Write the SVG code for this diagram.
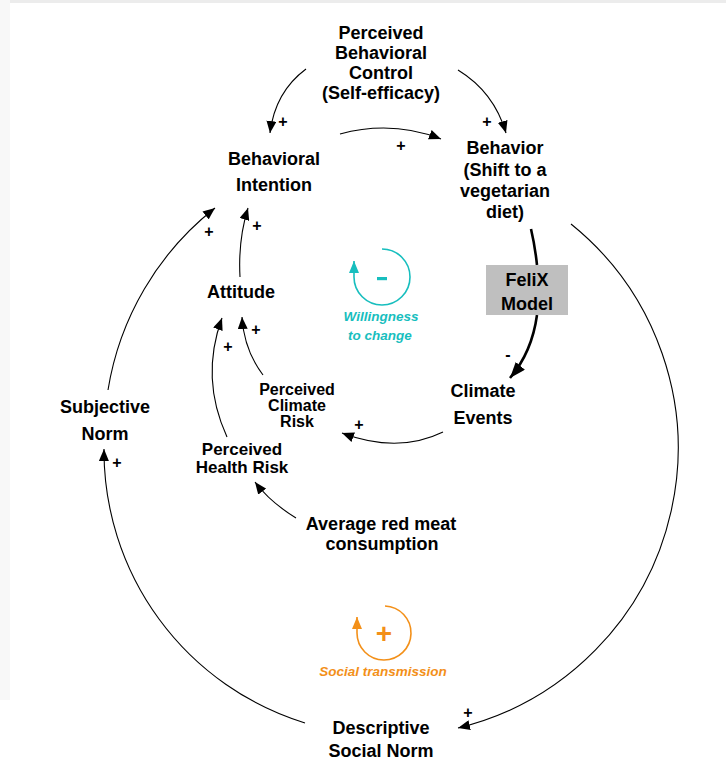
<svg xmlns="http://www.w3.org/2000/svg" width="726" height="762" viewBox="0 0 726 762">
  <defs>
    <marker id="arrow" viewBox="0 0 12 10" refX="12" refY="5" markerWidth="12" markerHeight="10" markerUnits="userSpaceOnUse" orient="auto">
      <path d="M0,0 L12,5 L0,10 Z" fill="#000"/>
    </marker>
    <marker id="arrowBig" viewBox="0 0 16 12" refX="16" refY="6" markerWidth="16" markerHeight="12" markerUnits="userSpaceOnUse" orient="auto">
      <path d="M0,0 L16,6 L0,12 Z" fill="#000"/>
    </marker>
    <marker id="arrowCyan" viewBox="0 0 12 10" refX="12" refY="5" markerWidth="12" markerHeight="10" markerUnits="userSpaceOnUse" orient="auto">
      <path d="M0,0 L12,5 L0,10 Z" fill="#17BEBE"/>
    </marker>
    <marker id="arrowOrange" viewBox="0 0 12 10" refX="12" refY="5" markerWidth="12" markerHeight="10" markerUnits="userSpaceOnUse" orient="auto">
      <path d="M0,0 L12,5 L0,10 Z" fill="#F39019"/>
    </marker>
  </defs>
  <style>
    .lbl { font-family: "Liberation Sans", Arial, sans-serif; font-weight: bold; font-size: 18px; fill: #000; text-anchor: middle; }
    .tight { font-size: 16px; }
    .mid { font-size: 17px; }
    .sign { font-family: "Liberation Sans", Arial, sans-serif; font-weight: bold; font-size: 16px; fill: #000; text-anchor: middle; }
    .link { fill: none; stroke: #000; stroke-width: 1.1; marker-end: url(#arrow); }
    .thick { fill: none; stroke: #000; stroke-width: 2.6; }
    .loopname { font-family: "Liberation Sans", Arial, sans-serif; font-weight: bold; font-style: italic; font-size: 13.5px; text-anchor: middle; }
  </style>

  <!-- page background -->
  <rect x="0" y="0" width="726" height="762" fill="#ffffff"/>
  <rect x="0" y="0" width="726" height="3" fill="#ececec"/>
  <rect x="0" y="0" width="10" height="700" fill="#f8f8f8"/>

  <!-- connectors -->
  <g id="connectors">
    <path class="link" d="M306,69 Q275,92 270,133"/>
    <path class="link" d="M458,70 Q494,92 506,133"/>
    <path class="link" d="M340,134 Q392,120 441,139"/>
    <path class="link" d="M240,277 Q238,240 248,208"/>
    <path class="link" d="M108,390 A290 290 0 0 1 215,208"/>
    <path class="link" d="M227,437 Q200,378 222,318"/>
    <path class="link" d="M263,375 Q244,350 242,317"/>
    <path class="link" d="M296,518 Q270,502 255,482"/>
    <path class="link" d="M443,432 Q398,454 342,433"/>
    <path class="link" d="M571,224 A288 288 0 0 1 458,728"/>
    <path class="link" d="M305,723 A285 285 0 0 1 104,449"/>
    <path class="thick" d="M531,229 Q535,246 537,265"/>
    <path class="thick" d="M537,315 Q532,352 510,378" marker-end="url(#arrowBig)"/>

    <!-- polarity signs -->
    <text class="sign" x="283" y="127">+</text>
    <text class="sign" x="487" y="127">+</text>
    <text class="sign" x="401" y="151">+</text>
    <text class="sign" x="257" y="231">+</text>
    <text class="sign" x="209" y="237">+</text>
    <text class="sign" x="256" y="335">+</text>
    <text class="sign" x="228" y="352">+</text>
    <text class="sign" x="359" y="430">+</text>
    <text class="sign" x="117" y="468">+</text>
    <text class="sign" x="468" y="718">+</text>
    <text class="sign" x="508" y="360">-</text>
  </g>

  <!-- nodes -->
  <g id="pbc">
    <text class="lbl" x="381" y="39">Perceived</text>
    <text class="lbl" x="381" y="59">Behavioral</text>
    <text class="lbl" x="381" y="79">Control</text>
    <text class="lbl" x="381" y="99">(Self-efficacy)</text>
  </g>
  <g id="intention">
    <text class="lbl" x="274" y="165">Behavioral</text>
    <text class="lbl" x="274" y="191">Intention</text>
  </g>
  <g id="behavior">
    <text class="lbl" x="505" y="154">Behavior</text>
    <text class="lbl" x="505" y="176">(Shift to a</text>
    <text class="lbl" x="505" y="197">vegetarian</text>
    <text class="lbl" x="505" y="218">diet)</text>
  </g>
  <g id="felix">
    <rect x="486" y="265" width="82" height="50" fill="#bfbfbf"/>
    <text class="lbl" x="527" y="286">FeliX</text>
    <text class="lbl" x="527" y="310">Model</text>
  </g>
  <g id="attitude">
    <text class="lbl" x="241" y="298">Attitude</text>
  </g>
  <g id="climate-risk">
    <text class="lbl tight" x="297" y="395">Perceived</text>
    <text class="lbl tight" x="297" y="411">Climate</text>
    <text class="lbl tight" x="297" y="427">Risk</text>
  </g>
  <g id="climate-events">
    <text class="lbl" x="483" y="397">Climate</text>
    <text class="lbl" x="483" y="424">Events</text>
  </g>
  <g id="subjective-norm">
    <text class="lbl" x="105" y="413">Subjective</text>
    <text class="lbl" x="105" y="440">Norm</text>
  </g>
  <g id="health-risk">
    <text class="lbl mid" x="242" y="455">Perceived</text>
    <text class="lbl mid" x="242" y="473">Health Risk</text>
  </g>
  <g id="red-meat">
    <text class="lbl" x="381" y="530">Average red meat</text>
    <text class="lbl" x="382" y="550">consumption</text>
  </g>
  <g id="descriptive-norm">
    <text class="lbl" x="381" y="734">Descriptive</text>
    <text class="lbl" x="381" y="757">Social Norm</text>
  </g>

  <!-- loop markers -->
  <g id="loop-willingness">
    <path d="M382,249 A28 28 0 1 1 354,277 L354,261" fill="none" stroke="#17BEBE" stroke-width="1.6" marker-end="url(#arrowCyan)"/>
    <rect x="377" y="277" width="10" height="3.2" fill="#17BEBE"/>
    <text class="loopname" x="381" y="321" fill="#17BEBE">Willingness</text>
    <text class="loopname" x="380" y="340" fill="#17BEBE">to change</text>
  </g>
  <g id="loop-social">
    <path d="M385,606 A27 27 0 1 1 357,633 L357,617" fill="none" stroke="#F39019" stroke-width="1.6" marker-end="url(#arrowOrange)"/>
    <text x="384" y="643" font-family="Liberation Sans, Arial, sans-serif" font-weight="bold" font-size="28" fill="#F39019" text-anchor="middle">+</text>
    <text class="loopname" x="383" y="676" fill="#F39019">Social transmission</text>
  </g>
</svg>
